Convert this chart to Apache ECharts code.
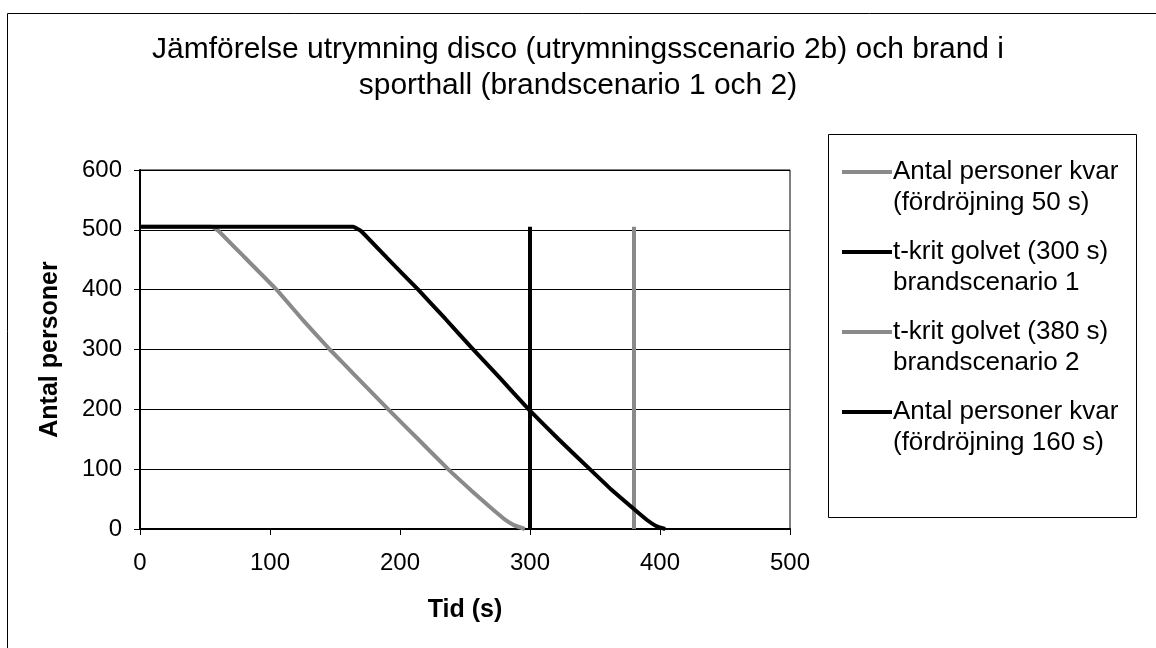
<!DOCTYPE html>
<html>
<head>
<meta charset="utf-8">
<script src="https://cdn.jsdelivr.net/npm/echarts@6/dist/echarts.min.js"></script>
<style>html,body{margin:0;padding:0;background:#fff}#c{width:1156px;height:648px}</style>
</head>
<body>
<div id="c"></div>
<script>
const titleText = 'Jämförelse utrymning disco (utrymningsscenario 2b) och brand i\nsporthall (brandscenario 1 och 2)';
const xAxisName = 'Tid (s)';
const yAxisName = 'Antal personer';
const seriesNames = [
  'Antal personer kvar\n(fördröjning 50 s)',
  't-krit golvet (300 s)\nbrandscenario 1',
  't-krit golvet (380 s)\nbrandscenario 2',
  'Antal personer kvar\n(fördröjning 160 s)'
];
const delay50Time   = [0, 55, 60, 80, 105, 125, 146, 168, 191, 214, 237, 255, 269, 280, 288, 296];
const delay50People = [505, 505, 499, 455, 400, 350, 300, 251, 200, 150, 100, 64, 37, 17, 6, 0];
const tcrit1Time   = [300, 300];
const tcrit1People = [0, 505];
const tcrit2Time   = [380, 380];
const tcrit2People = [0, 505];
const delay160Time   = [0, 164, 170, 190, 214, 235, 255, 277, 299, 322, 346, 362, 379, 390, 397, 404];
const delay160People = [505, 505, 498, 453, 400, 351, 303, 252, 200, 150, 100, 67, 35, 15, 5, 0];

const zip = (xs, ys) => xs.map((x, i) => [x, ys[i]]);
const GRAY = '#8a8a8a', BLACK = '#000000';
const FONT = '"Liberation Sans", Arial, sans-serif';
const legendIcon = 'path://M0,0L50,0L50,4L0,4Z M0,34L0.01,34L0.01,34.01Z';

const chart = echarts.init(document.getElementById('c'), null, {renderer: 'canvas'});
chart.setOption({
  animation: false,
  backgroundColor: '#fff',
  title: {
    text: titleText, left: 'center', top: 27,
    textStyle: {fontFamily: FONT, fontSize: 30, fontWeight: 'normal', color: '#000', lineHeight: 36}
  },
  graphic: [
    {type: 'rect', z: -10, shape: {x: 7.5, y: 13.5, width: 1170, height: 700}, style: {fill: 'none', stroke: '#000', lineWidth: 1}},
    {type: 'rect', z: -10, shape: {x: 828.5, y: 134.5, width: 308, height: 383}, style: {fill: '#fff', stroke: '#000', lineWidth: 1}}
  ],
  legend: {
    orient: 'vertical', left: 842, top: 156, padding: 0,
    itemWidth: 50, itemHeight: 34, itemGap: 18,
    icon: legendIcon,
    textStyle: {fontFamily: FONT, fontSize: 26, color: '#000', lineHeight: 31, padding: [0, 0, 0, -4]},
    data: seriesNames
  },
  grid: {left: 140, right: 366, top: 170, bottom: 119, show: true, borderColor: '#000', borderWidth: 1, containLabel: false},
  xAxis: {
    type: 'value', min: 0, max: 500, interval: 100,
    name: xAxisName, nameLocation: 'middle', nameGap: 69,
    nameTextStyle: {fontFamily: FONT, fontSize: 25, fontWeight: 'bold', color: '#000'},
    axisLine: {show: true, lineStyle: {color: '#000', width: 2}},
    axisTick: {show: true, inside: false, length: 6, lineStyle: {color: '#000'}},
    axisLabel: {fontFamily: FONT, fontSize: 24, color: '#000', margin: 22},
    splitLine: {show: false}
  },
  yAxis: {
    type: 'value', min: 0, max: 600, interval: 100,
    name: yAxisName, nameLocation: 'middle', nameGap: 77, nameRotate: 90,
    nameTextStyle: {fontFamily: FONT, fontSize: 25, fontWeight: 'bold', color: '#000'},
    axisLine: {show: true, lineStyle: {color: '#000', width: 2}},
    axisTick: {show: true, inside: false, length: 6, lineStyle: {color: '#000'}},
    axisLabel: {fontFamily: FONT, fontSize: 24, color: '#000', margin: 18},
    splitLine: {show: true, lineStyle: {color: '#000', width: 1}}
  },
  series: [
    {name: seriesNames[0], type: 'line', data: zip(delay50Time, delay50People), symbol: 'none', smooth: 0.1,
     lineStyle: {color: GRAY, width: 4}, itemStyle: {color: GRAY}},
    {name: seriesNames[1], type: 'line', data: zip(tcrit1Time, tcrit1People), symbol: 'none',
     lineStyle: {color: BLACK, width: 4}, itemStyle: {color: BLACK}},
    {name: seriesNames[2], type: 'line', data: zip(tcrit2Time, tcrit2People), symbol: 'none',
     lineStyle: {color: GRAY, width: 4}, itemStyle: {color: GRAY}},
    {name: seriesNames[3], type: 'line', data: zip(delay160Time, delay160People), symbol: 'none', smooth: 0.1,
     lineStyle: {color: BLACK, width: 4}, itemStyle: {color: BLACK}}
  ]
});
</script>
</body>
</html>
